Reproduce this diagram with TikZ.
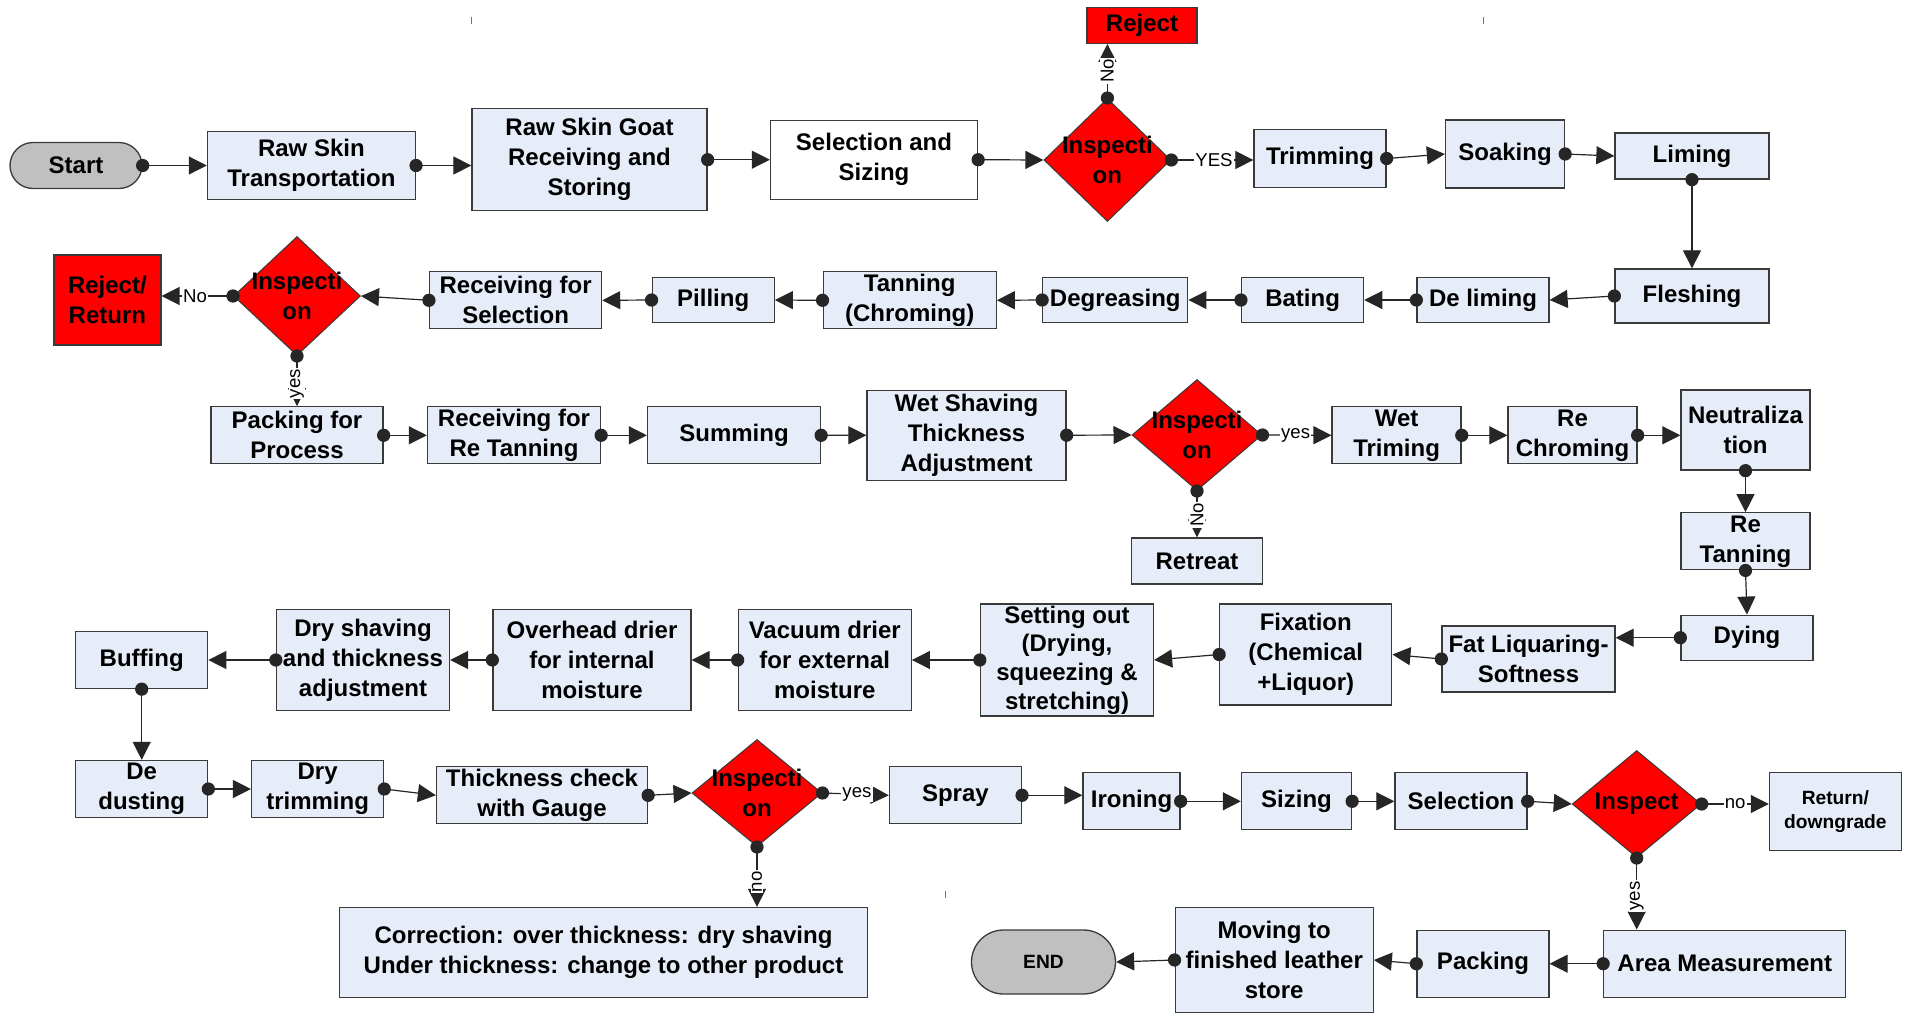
\documentclass[tikz,border=0pt]{standalone}
\usepackage{fontspec}
\setmainfont{Liberation Sans}
\usetikzlibrary{arrows.meta,shapes.geometric,shapes.misc}

\definecolor{boxfill}{HTML}{E6EDF8}
\definecolor{boxline}{HTML}{3A3A3A}
\definecolor{termfill}{HTML}{C0C0C0}
\definecolor{alertred}{HTML}{FF0000}

\tikzset{
  sz/.style 2 args={minimum width=#1*0.5pt, minimum height=#2*0.5pt},
  boxfont/.style={font=\bfseries\fontsize{12}{15}\selectfont},
  stepbox/.style={draw=boxline, fill=boxfill, line width=0.65pt, inner sep=0pt,
                  align=center, boxfont},
  whitebox/.style={stepbox, fill=white},
  redbox/.style={stepbox, fill=alertred},
  terminal/.style={rounded rectangle, draw=boxline, fill=termfill, line width=0.65pt,
                   inner sep=0pt, boxfont},
  decision/.style={diamond, draw=boxline, fill=alertred, line width=0.5pt, inner sep=0pt},
  dtext/.style={align=center, inner sep=0pt, boxfont},
  conn/.style={draw=black!85, line width=0.6pt,
               arrows={Circle[length=6.6pt]-Triangle[length=9pt,width=9pt]},
               shorten <=-3.3pt},
  lbl/.style={font=\fontsize{9.3}{11}\selectfont, fill=white, inner sep=0.6pt},
  vlbl/.style={lbl, rotate=90},
}

\begin{document}
\begin{tikzpicture}[x=0.5pt, y=-0.5pt]
  \fill[white] (0,0) rectangle (1908,1013);
  \path[use as bounding box] (0,0) rectangle (1908,1013);

  % small stray ticks
  \draw[black!55, line width=0.5pt] (471,17) -- (471,24);
  \draw[black!55, line width=0.5pt] (1483,17) -- (1483,24);
  \draw[black!55, line width=0.5pt] (945,891) -- (945,898);

  % ---------- row 1 ----------
  \node[terminal, sz={132}{46}] (start) at (76,165.5) {Start};
  \node[stepbox, sz={208}{68}] (rst) at (311.4,165.5) {Raw Skin\\Transportation};
  \node[stepbox, sz={235}{102}] (rsg) at (589.5,159.7) {Raw Skin Goat\\Receiving and\\Storing};
  \node[whitebox, sz={207}{79}] (sel) at (874,159.7) {Selection and\\Sizing};
  \node[decision, sz={127}{123}] (in1) at (1107.4,160) {};
  \node[dtext] (in1t) at (in1) {Inspecti\\on};
  \node[redbox, sz={110}{36}] (rej) at (1142,25.3) {Reject};
  \node[stepbox, sz={132}{58}] (trim) at (1320,158.5) {Trimming};
  \node[stepbox, sz={119}{68}] (soak) at (1505,154) {Soaking};
  \node[stepbox, sz={154}{46}] (lim) at (1692,156) {Liming};

  % ---------- row 2 ----------
  \node[stepbox, sz={154}{54}] (flesh) at (1692,296) {Fleshing};
  \node[stepbox, sz={132}{45}] (delim) at (1483,300) {De liming};
  \node[stepbox, sz={122}{45}] (bat) at (1302.6,300) {Bating};
  \node[stepbox, sz={145}{45}] (degr) at (1115.3,300) {Degreasing};
  \node[stepbox, sz={173}{57}] (tan) at (909.7,300.3) {Tanning\\(Chroming)};
  \node[stepbox, sz={122}{45}] (pill) at (713.2,300) {Pilling};
  \node[stepbox, sz={172}{57}] (recsel) at (515.6,300.3) {Receiving for\\Selection};
  \node[decision, sz={127}{119}] (in3) at (297,296) {};
  \node[dtext] (in3t) at (in3) {Inspecti\\on};
  \node[redbox, sz={107}{90}] (rejret) at (107.4,300) {Reject/\\Return};

  % ---------- row 3 ----------
  \node[stepbox, sz={172}{57}] (pack) at (297,435.3) {Packing for\\Process};
  \node[stepbox, sz={173}{57}] (recrt) at (514,435.3) {Receiving for\\Re Tanning};
  \node[stepbox, sz={173}{57}] (sum) at (734,435.3) {Summing};
  \node[stepbox, sz={199}{90}] (wets) at (966.5,435.2) {Wet Shaving\\Thickness\\Adjustment};
  \node[decision, sz={130}{111}] (in2) at (1197,435) {};
  \node[dtext] (in2t) at (in2) {Inspecti\\on};
  \node[stepbox, sz={131}{46}] (retreat) at (1197,561) {Retreat};
  \node[stepbox, sz={129}{57}] (wtrim) at (1396.6,435.3) {Wet\\Triming};
  \node[stepbox, sz={129}{57}] (rechr) at (1572.5,435.3) {Re\\Chroming};
  \node[stepbox, sz={129}{80}] (neut) at (1745.5,430) {Neutraliza\\tion};
  \node[stepbox, sz={129}{57}] (retan) at (1745.5,541.3) {Re\\Tanning};

  % ---------- row 4 ----------
  \node[stepbox, sz={132}{45}] (dying) at (1747,637.7) {Dying};
  \node[stepbox, sz={173}{66}] (fat) at (1528.5,659) {Fat Liquaring-\\Softness};
  \node[stepbox, sz={172}{101}] (fix) at (1305.8,654.5) {Fixation\\(Chemical\\+Liquor)};
  \node[stepbox, sz={173}{112}, font=\bfseries\fontsize{12}{14.3}\selectfont] (setout) at (1067,660)
       {Setting out\\(Drying,\\squeezing \&\\stretching)};
  \node[stepbox, sz={173}{101}] (vac) at (824.8,660) {Vacuum drier\\for external\\moisture};
  \node[stepbox, sz={198}{101}] (over) at (592,660) {Overhead drier\\for internal\\moisture};
  \node[stepbox, sz={173}{101}] (dshav) at (363,660) {Dry shaving\\and thickness\\adjustment};
  \node[stepbox, sz={132}{57}] (buff) at (141.7,660) {Buffing};

  % ---------- row 5 ----------
  \node[stepbox, sz={132}{57}] (dedust) at (141.7,789) {De\\dusting};
  \node[stepbox, sz={132}{57}] (dtrim) at (317.6,789) {Dry\\trimming};
  \node[stepbox, sz={211}{57}] (thick) at (542,795.3) {Thickness check\\with Gauge};
  \node[decision, sz={130}{107}] (in4) at (757,793) {};
  \node[dtext] (in4t) at (in4) {Inspecti\\on};
  \node[stepbox, sz={132}{57}] (spray) at (955.4,795.3) {Spray};
  \node[stepbox, sz={97}{57}] (iron) at (1131.5,801.3) {Ironing};
  \node[stepbox, sz={110}{57}] (sizing) at (1296.5,801.3) {Sizing};
  \node[stepbox, sz={132}{57}] (selc) at (1461,801.3) {Selection};
  \node[decision, sz={129}{107}] (in5) at (1636.7,804) {};
  \node[dtext] (in5t) at (in5) {Inspect};
  \node[stepbox, sz={132}{78}, font=\bfseries\fontsize{9.6}{11.8}\selectfont] (ret) at (1835.4,811.8)
       {Return/\\downgrade};

  % ---------- row 6 ----------
  \node[stepbox, sz={528}{90}] (corr) at (603.5,952.5)
       {Correction: over thickness: dry shaving\\Under thickness: change to other product};
  \node[stepbox, sz={242}{67}] (area) at (1724.8,963.7) {Area Measurement};
  \node[stepbox, sz={132}{67}] (packing) at (1483,963.7) {Packing};
  \node[stepbox, sz={198}{105}] (moving) at (1274.2,960) {Moving to\\finished leather\\store};
  \node[terminal, sz={144}{64}, font=\bfseries\fontsize{9.6}{12}\selectfont] (finish) at (1043.5,962) {END};

  % ---------- connectors ----------
  \draw[conn] (start.east) -- (rst.west);
  \draw[conn] (rst.east) -- (rst.east -| rsg.west);
  \draw[conn] (rsg.east) -- (sel.west);
  \draw[conn] (sel.east) -- (in1.west);
  \draw[conn] (in1.north) -- node[vlbl, pos=0.5] (l1) {No} (in1.north |- rej.south);
  \draw[conn] (in1.east) -- node[lbl, pos=0.52] (l2) {YES} (in1.east -| trim.west);
  \draw[conn] (trim.east) -- (soak.west);
  \draw[conn] (soak.east) -- (lim.west);
  \draw[conn] (lim.south) -- (flesh.north);
  \draw[conn] (flesh.west) -- (delim.east);
  \draw[conn] (delim.west) -- (bat.east);
  \draw[conn] (bat.west) -- (degr.east);
  \draw[conn] (degr.west) -- (tan.east);
  \draw[conn] (tan.west) -- (pill.east);
  \draw[conn] (pill.west) -- (recsel.east);
  \draw[conn] (recsel.west) -- (in3.east);
  \draw[conn] (in3.west) -- node[lbl, pos=0.53] (l3) {No} (in3.west -| rejret.east);
  \draw[conn] (in3.south) -- node[vlbl, pos=0.55] (l4) {yes} (in3.south |- pack.north);
  \draw[conn] (pack.east) -- (recrt.west);
  \draw[conn] (recrt.east) -- (sum.west);
  \draw[conn] (sum.east) -- (wets.west);
  \draw[conn] (wets.east) -- (in2.west);
  \draw[conn] (in2.east) -- node[lbl, pos=0.48] (l5) {yes} (wtrim.west);
  \draw[conn] (in2.south) -- node[vlbl, pos=0.51] (l6) {No} (retreat.north);
  \draw[conn] (wtrim.east) -- (rechr.west);
  \draw[conn] (rechr.east) -- (rechr.east -| neut.west);
  \draw[conn] (neut.south) -- (retan.north);
  \draw[conn] (retan.south) -- (dying.north);
  \draw[conn] (dying.west) -- (dying.west -| fat.east);
  \draw[conn] (fat.west) -- (fix.east);
  \draw[conn] (fix.west) -- (setout.east);
  \draw[conn] (setout.west) -- (vac.east);
  \draw[conn] (vac.west) -- (over.east);
  \draw[conn] (over.west) -- (dshav.east);
  \draw[conn] (dshav.west) -- (buff.east);
  \draw[conn] (buff.south) -- (dedust.north);
  \draw[conn] (dedust.east) -- (dtrim.west);
  \draw[conn] (dtrim.east) -- (thick.west);
  \draw[conn] (thick.east) -- (in4.west);
  \draw[conn] (in4.south) -- node[vlbl, pos=0.58] (l7) {no} (in4.south |- corr.north);
  \draw[conn] (in4.east) -- node[lbl, pos=0.52] (l8) {yes} (spray.west);
  \draw[conn] (spray.east) -- (spray.east -| iron.west);
  \draw[conn] (iron.east) -- (sizing.west);
  \draw[conn] (sizing.east) -- (selc.west);
  \draw[conn] (selc.east) -- (in5.west);
  \draw[conn] (in5.east) -- node[lbl, pos=0.5] (l9) {no} (in5.east -| ret.west);
  \draw[conn] (in5.south) -- node[vlbl, pos=0.53] (l10) {yes} (in5.south |- area.north);
  \draw[conn] (area.west) -- (packing.east);
  \draw[conn] (packing.west) -- (moving.east);
  \draw[conn] (moving.west) -- (finish.east);
\end{tikzpicture}
\end{document}
